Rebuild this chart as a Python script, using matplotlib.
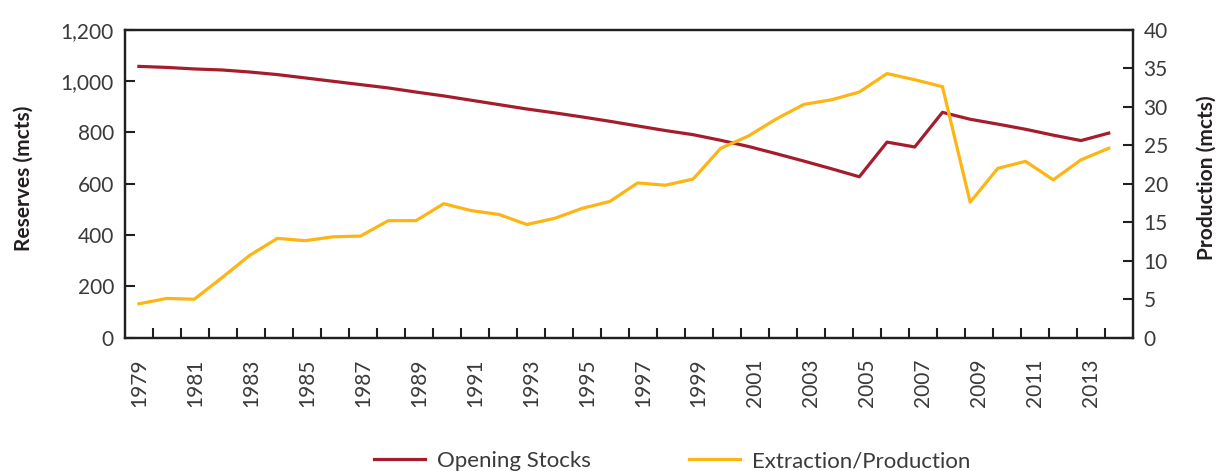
import numpy as np
import matplotlib
matplotlib.use("Agg")
import matplotlib.pyplot as plt

plt.rcParams["font.family"] = ["Lato", "DejaVu Sans"]

years = list(range(1979, 2015))

# opening stocks, mcts (left axis)
reserves = [1057, 1053, 1047, 1043, 1035, 1025, 1012, 999, 986, 973,
            957, 942, 925, 908, 891, 876, 860, 843, 825, 807,
            791, 769, 745, 717, 688, 658, 627, 762, 743, 878,
            851, 832, 812, 789, 768, 797]

# extraction / production, mcts (right axis)
production = [4.4, 5.1, 5.0, 7.8, 10.7, 12.9, 12.6, 13.1, 13.2, 15.2,
              15.2, 17.4, 16.5, 16.0, 14.7, 15.5, 16.8, 17.7, 20.1, 19.8,
              20.6, 24.6, 26.2, 28.4, 30.3, 30.9, 31.9, 34.3, 33.5, 32.6,
              17.6, 22.0, 22.9, 20.5, 23.1, 24.6]

red = "#a51d2d"
yellow = "#fdb515"
dark = "#231f20"
txt = "#3a3a3a"

fig = plt.figure(figsize=(12.2, 4.71), dpi=100)
ax = fig.add_axes([0.1025, 0.283, 0.8258, 0.654])
ax2 = ax.twinx()

x = np.arange(len(years))
l1, = ax.plot(x, reserves, color=red, lw=2.3, label="Opening Stocks")
l2, = ax2.plot(x, production, color=yellow, lw=2.3, label="Extraction/Production")

# category bands, like the spreadsheet axis
lo, hi = -0.5, len(years) - 0.14
ax.set_xlim(lo, hi)
edges = np.linspace(lo, hi, len(years) + 1)
centers = (edges[:-1] + edges[1:]) / 2
ax.set_xticks(edges[1:-1], minor=True)
ax.set_xticks(centers[::2])
ax.set_xticklabels([str(y) for y in years[::2]], rotation=90)

ax.set_ylim(0, 1200)
ax.set_yticks(range(0, 1201, 200))
ax.set_yticklabels([f"{v:,}" for v in range(0, 1201, 200)])
ax2.set_ylim(0, 40)
ax2.set_yticks(range(0, 41, 5))

for a in (ax, ax2):
    for s in a.spines.values():
        s.set_color(dark)
        s.set_linewidth(1.6)

ax.tick_params(axis="x", which="major", length=0, pad=15, labelsize=15, labelcolor=txt)
ax.tick_params(axis="x", which="minor", direction="in", length=7.5, width=1.5, color=dark)
ax.tick_params(axis="y", direction="in", length=7.5, width=1.5, color=dark,
               pad=8, labelsize=15, labelcolor=txt)
ax2.tick_params(axis="y", direction="in", length=7.5, width=1.5, color=dark,
                pad=8, labelsize=15, labelcolor=txt)

ax.set_ylabel("Reserves (mcts)", fontsize=15, fontweight="bold", color=dark)
ax.yaxis.set_label_coords(-0.091, 0.518)
ax2.set_ylabel("Production (mcts)", fontsize=15, fontweight="bold", color=dark,
               rotation=90)
ax2.yaxis.set_label_coords(1.064, 0.52)

leg = fig.legend(handles=[l1, l2], loc="center left", bbox_to_anchor=(374 / 1220, 10 / 471),
                 ncol=2, frameon=False, fontsize=16, handlelength=2.3,
                 handletextpad=0.55, columnspacing=4.4, borderpad=0, borderaxespad=0)
for t in leg.get_texts():
    t.set_color(txt)

fig.savefig("out.png", dpi=100)
